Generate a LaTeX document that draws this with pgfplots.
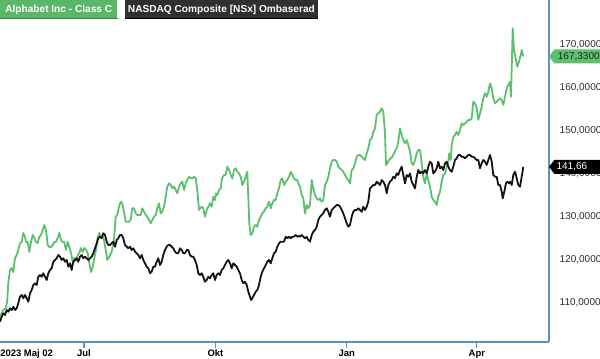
\documentclass[border=0pt]{standalone}
\usepackage{fontspec}
\setmainfont{Liberation Sans}
\usepackage{pgfplots}
\pgfplotsset{compat=1.18}
\definecolor{gline}{RGB}{92,192,110}
\definecolor{gbox}{RGB}{90,182,104}
\definecolor{axblue}{RGB}{95,145,185}
\definecolor{darkbox}{RGB}{48,48,48}
\definecolor{ticktxt}{RGB}{45,45,45}
\begin{document}
\begin{tikzpicture}
\begin{axis}[
  at={(0pt,12.75pt)}, anchor=south west,
  scale only axis, width=411.75pt, height=256.5pt,
  xmin=1.2, xmax=385.5, ymin=100.93, ymax=180.47,
  axis x line*=bottom, axis y line*=right,
  axis line style={draw=axblue, line width=0.9pt, -},
  tick align=outside, major tick length=4.5pt,
  xtick={60,152,244,335}, xticklabels={Jul,Okt,Jan,Apr},
  x tick style={draw=axblue, line width=0.8pt},
  xticklabel style={font=\bfseries\fontsize{7.1}{8}\selectfont, text=black, yshift=2pt},
  extra x ticks={1.2}, extra x tick labels={2023 Maj 02},
  extra x tick style={major tick length=0pt, xticklabel style={anchor=north west, inner xsep=0pt, yshift=-4.5pt}},
  ytick={110,120,130,140,150,160,170},
  yticklabels={{110,0000},{120,0000},{130,0000},{140,0000},{150,0000},{160,0000},{170,0000}},
  y tick style={draw=none},
  yticklabel style={anchor=west, font=\fontsize{7.5}{8}\selectfont, text=ticktxt},
]
\addplot[gline, line width=1.35pt, line join=round] coordinates {
(1.2,106.81)(3.5,108.37)(5.4,108.84)(6.3,110.70)(7.0,114.65)(8.2,117.67)(9.4,118.14)(10.5,117.21)(11.7,120.47)(12.9,121.16)
(14.0,122.33)(15.2,123.95)(16.4,124.19)(17.5,126.28)(18.7,125.35)(19.4,124.19)(20.6,124.19)(21.7,121.86)(22.9,124.19)(24.1,125.81)
(25.2,125.12)(26.4,124.19)(27.6,123.95)(28.7,125.35)(29.9,125.81)(31.1,126.97)(32.2,128.14)(33.4,126.97)(34.6,123.49)(35.7,123.02)
(36.9,123.02)(38.1,123.49)(39.2,124.19)(40.4,124.19)(41.6,125.12)(42.7,126.28)(43.9,124.65)(45.1,124.19)(46.2,124.19)(47.4,122.33)
(48.6,124.19)(49.7,123.02)(50.9,121.63)(52.1,119.53)(53.2,120.47)(54.4,120.00)(55.6,121.16)(56.7,121.63)(57.9,122.79)(59.1,121.86)
(60.2,122.79)(61.4,122.33)(62.6,121.63)(63.7,119.30)(64.9,117.21)(66.1,118.37)(67.2,120.47)(68.4,122.33)(69.6,125.35)(70.7,126.28)
(71.2,125.81)(73.1,125.42)(74.0,124.65)(75.4,121.93)(76.3,120.00)(77.7,120.77)(79.4,121.93)(81.0,124.65)(82.2,130.07)(83.3,130.47)
(84.5,132.40)(85.7,133.56)(86.8,133.18)(88.0,131.23)(89.2,128.91)(90.3,128.91)(91.5,128.91)(92.7,129.30)(93.8,132.02)(95.0,132.02)
(96.2,130.86)(97.3,130.47)(98.5,130.47)(99.7,130.47)(100.8,132.02)(102.0,131.23)(103.2,130.47)(104.3,130.07)(105.5,129.30)(106.7,128.53)
(107.8,129.30)(109.0,130.07)(110.2,130.47)(111.3,132.02)(112.5,133.18)(113.7,130.86)(114.8,131.23)(116.0,132.40)(117.2,134.72)(118.3,137.05)
(119.5,137.84)(120.7,137.44)(121.8,136.67)(123.0,137.05)(124.2,136.28)(125.3,135.51)(126.5,137.05)(127.7,137.84)(128.8,138.21)(130.0,136.28)
(131.2,137.84)(132.3,138.60)(133.5,139.37)(134.7,139.00)(135.8,139.00)(137.0,139.37)(138.2,139.00)(139.3,136.28)(140.5,131.63)(141.2,132.02)
(142.4,132.40)(143.5,132.02)(144.7,130.07)(145.9,131.63)(147.0,132.40)(148.2,133.18)(149.4,132.40)(150.5,134.72)(151.7,133.95)(152.4,135.51)
(153.3,135.12)(154.5,136.28)(155.7,136.67)(156.6,139.00)(158.0,139.77)(159.2,139.77)(160.3,141.70)(161.5,140.93)(162.7,139.77)(163.8,139.00)
(165.0,140.93)(166.2,141.33)(167.3,140.53)(168.5,140.16)(169.7,139.37)(170.8,137.44)(172.0,138.21)(173.2,139.37)(174.3,140.53)(175.0,134.72)
(175.7,128.53)(176.7,125.81)(177.8,126.21)(179.0,127.74)(180.2,128.14)(181.3,127.74)(182.5,129.30)(183.7,130.07)(184.8,130.86)(186.0,131.23)
(187.2,132.02)(188.3,132.40)(189.5,133.56)(190.7,132.02)(191.8,133.18)(193.0,133.95)(194.2,133.95)(195.3,135.51)(196.5,136.67)(197.7,138.60)
(198.8,139.00)(200.0,137.44)(201.2,138.21)(202.3,138.60)(203.5,139.37)(204.7,140.53)(205.8,139.77)(207.0,139.00)(208.2,138.60)(209.3,138.60)
(210.5,137.44)(211.2,137.05)(212.4,135.12)(213.5,134.35)(214.7,130.86)(215.9,132.79)(217.0,132.02)(218.2,132.79)(219.4,138.60)(220.5,136.67)
(221.7,135.12)(222.9,134.35)(224.0,133.95)(225.2,134.35)(226.4,133.56)(227.5,133.95)(228.7,137.44)(229.9,138.21)(231.0,139.37)(232.2,141.33)
(233.4,142.86)(234.5,143.26)(235.7,143.26)(236.9,142.86)(238.0,141.70)(239.2,141.33)(240.4,140.93)(241.5,140.53)(242.7,139.77)(243.9,139.00)
(245.0,138.60)(246.2,137.84)(247.4,140.93)(248.5,141.33)(249.7,142.49)(250.9,144.02)(252.0,144.42)(253.2,144.42)(254.4,144.02)(255.5,143.65)
(256.7,143.26)(257.9,144.81)(259.0,145.97)(260.2,147.91)(261.4,148.30)(262.5,149.84)(263.7,150.63)(264.9,153.72)(266.0,154.12)(267.2,154.49)
(268.4,155.28)(269.5,154.49)(270.7,149.47)(271.4,142.09)(272.3,142.49)(273.5,143.26)(274.7,143.65)(275.8,144.02)(277.0,144.81)(278.2,145.58)
(279.3,146.35)(280.5,148.67)(281.2,150.63)(282.4,149.07)(283.5,147.91)(284.7,147.14)(285.9,147.91)(287.0,146.74)(288.2,145.19)(289.4,142.49)
(290.5,142.09)(291.7,143.26)(292.9,144.81)(294.0,145.58)(295.2,145.58)(296.4,142.49)(297.5,139.37)(298.7,137.84)(299.9,140.16)(301.0,138.60)
(302.2,137.05)(303.4,134.72)(304.5,133.95)(305.7,133.56)(306.9,132.79)(308.0,134.72)(309.2,135.88)(310.4,138.21)(311.5,139.77)(312.7,140.16)
(313.9,141.70)(315.0,142.86)(315.7,144.81)(316.7,143.26)(317.4,146.74)(318.5,148.67)(319.7,149.07)(320.9,149.84)(322.0,149.07)(323.2,150.23)
(324.4,151.79)(325.5,151.40)(326.7,151.79)(327.9,152.16)(329.0,152.56)(330.2,152.56)(331.4,152.95)(332.5,156.81)(333.7,156.44)(334.9,155.28)
(336.0,152.56)(337.2,154.12)(338.4,155.65)(339.5,157.60)(340.7,158.77)(341.9,157.98)(343.0,159.14)(344.2,161.09)(345.4,159.93)(346.5,157.60)
(347.7,156.44)(348.9,156.81)(350.0,157.21)(351.2,157.60)(352.4,157.21)(353.5,156.05)(354.7,157.98)(355.9,159.93)(357.0,160.70)(358.2,161.47)
(358.9,157.98)(360.1,173.88)(361.0,168.84)(362.4,166.51)(363.3,164.95)(364.5,166.12)(365.7,167.67)(366.4,168.84)(367.5,167.33)
};
\addplot[black!92, line width=1.35pt, line join=round] coordinates {
(1.2,105.65)(2.4,106.81)(3.5,107.60)(4.7,107.21)(5.9,108.37)(7.0,107.98)(8.2,108.77)(9.4,108.37)(10.5,109.14)(11.7,108.37)
(12.9,108.77)(14.0,109.93)(15.2,111.47)(16.4,111.86)(17.5,111.09)(18.7,111.86)(19.9,111.09)(21.0,110.30)(22.2,112.25)(23.4,113.02)
(24.5,114.19)(25.7,114.58)(26.9,114.19)(28.0,116.12)(29.2,116.51)(30.4,116.12)(31.5,116.91)(32.7,116.12)(33.9,115.35)(35.0,116.91)
(36.2,117.67)(37.4,118.07)(38.5,119.60)(39.7,120.00)(40.9,120.40)(42.0,121.16)(43.2,120.77)(44.4,120.00)(45.5,120.40)(46.7,119.60)
(47.9,120.00)(49.0,118.44)(50.2,119.23)(51.4,117.67)(52.5,119.60)(53.7,120.00)(54.9,120.40)(56.0,119.60)(57.2,120.77)(58.4,121.16)
(59.5,120.40)(60.7,120.77)(61.9,120.40)(63.0,120.00)(64.2,120.40)(65.4,120.77)(66.5,121.56)(67.7,122.72)(68.9,123.88)(70.0,125.05)
(71.2,125.42)(72.4,125.05)(73.5,126.21)(74.7,125.81)(75.9,124.26)(77.0,123.49)(78.2,123.49)(79.4,123.88)(80.5,124.26)(81.7,123.09)
(82.9,124.65)(84.0,125.05)(85.2,125.81)(86.4,125.81)(87.5,125.05)(88.7,123.49)(89.9,123.09)(91.0,122.72)(92.2,123.09)(93.4,122.33)
(94.5,122.72)(95.7,121.93)(96.9,121.56)(98.0,121.16)(99.2,120.40)(100.4,121.16)(101.5,120.00)(102.7,119.23)(103.9,118.44)(105.0,118.07)
(106.2,116.91)(107.4,117.28)(108.5,118.44)(109.7,118.44)(110.9,119.60)(112.0,120.40)(113.2,118.84)(114.4,119.60)(115.5,121.16)(116.7,122.33)
(117.9,123.09)(119.0,123.49)(120.2,123.49)(121.4,123.09)(122.5,122.72)(123.7,121.93)(124.9,121.56)(126.0,121.56)(127.2,122.72)(128.4,122.33)
(129.5,121.56)(130.7,121.56)(131.9,122.33)(133.0,122.33)(134.2,121.16)(135.4,120.77)(136.5,120.77)(137.7,120.00)(138.9,118.84)(140.0,116.91)
(141.2,116.51)(142.4,116.91)(143.5,116.12)(144.7,114.95)(145.9,115.35)(147.0,116.12)(148.2,115.74)(149.4,116.51)(150.5,116.91)(151.7,115.35)
(152.9,116.51)(154.0,116.91)(155.2,116.51)(156.4,117.67)(157.5,118.07)(158.7,118.84)(159.9,119.60)(161.0,120.00)(162.2,119.23)(163.4,118.07)
(164.5,119.23)(165.7,118.84)(166.9,118.44)(168.0,117.67)(169.2,116.91)(170.4,115.35)(171.5,114.58)(172.7,114.95)(173.9,114.19)(175.0,112.63)
(176.2,111.47)(176.9,110.70)(177.8,111.09)(179.0,111.86)(180.2,112.63)(181.3,113.02)(182.5,114.19)(183.7,116.12)(184.8,117.28)(186.0,118.07)
(187.2,118.84)(188.3,119.60)(189.5,120.00)(190.7,119.23)(191.8,120.40)(193.0,121.56)(194.2,121.93)(195.3,123.09)(196.5,123.88)(197.7,124.26)
(198.8,124.26)(200.0,124.26)(201.2,125.42)(202.3,125.05)(203.5,125.42)(204.7,125.05)(205.8,125.42)(207.0,125.42)(208.2,125.81)(209.3,125.42)
(210.5,125.58)(211.2,125.42)(212.4,125.81)(213.5,125.42)(214.7,125.05)(215.9,125.42)(217.0,124.65)(218.2,124.26)(219.4,125.81)(220.5,126.58)
(221.7,126.98)(222.9,127.74)(224.0,129.30)(225.2,130.07)(226.4,130.47)(227.5,130.86)(228.7,131.63)(229.9,132.02)(231.0,131.23)(232.2,130.07)
(233.4,131.63)(234.5,132.02)(235.7,132.40)(236.9,132.79)(238.0,132.79)(239.2,132.40)(240.4,131.63)(241.5,130.86)(242.7,129.70)(243.9,128.53)
(245.0,127.74)(246.2,128.14)(247.4,130.07)(248.5,131.23)(249.7,131.63)(250.9,131.63)(252.0,132.02)(253.2,131.63)(254.4,131.23)(255.5,132.40)
(256.7,131.63)(257.9,132.40)(259.0,133.56)(260.2,136.67)(261.4,137.05)(262.5,137.44)(263.7,137.44)(264.9,138.21)(266.0,137.84)(267.2,137.44)
(268.4,138.60)(269.5,138.21)(270.7,137.44)(271.9,135.51)(273.0,137.44)(274.2,138.21)(275.4,138.60)(276.5,139.37)(277.7,139.00)(278.9,140.16)
(280.0,139.77)(281.2,140.93)(282.4,141.70)(283.5,139.77)(284.7,137.84)(285.9,139.77)(287.0,139.37)(288.2,140.16)(289.4,138.21)(290.5,137.44)
(291.7,136.67)(292.9,139.37)(294.0,140.93)(295.2,140.16)(296.4,140.53)(297.5,140.16)(298.7,140.93)(299.9,140.16)(301.0,141.70)(302.2,142.86)
(303.4,142.49)(304.5,140.16)(305.7,140.53)(306.9,141.33)(308.0,142.86)(309.2,141.33)(310.4,141.70)(311.5,140.93)(312.7,142.49)(313.9,142.86)
(315.0,141.70)(316.2,140.93)(317.4,140.53)(318.5,141.70)(319.7,143.26)(320.9,143.65)(322.0,144.42)(323.2,144.42)(324.4,144.02)(325.5,144.02)
(326.7,143.65)(327.9,144.02)(329.0,144.42)(330.2,144.42)(331.4,144.02)(332.5,144.02)(333.7,143.65)(334.9,143.26)(336.0,143.26)(337.2,141.33)
(338.4,142.49)(339.5,143.26)(340.7,142.86)(341.9,142.09)(343.0,143.26)(344.2,144.42)(345.4,142.86)(346.5,139.77)(347.7,139.37)(348.9,139.37)
(350.0,137.44)(351.2,137.44)(352.4,135.88)(353.1,134.35)(354.2,135.88)(355.4,137.84)(356.3,138.21)(357.5,137.84)(358.2,138.21)(359.4,137.44)
(360.5,139.77)(361.7,140.53)(362.9,139.00)(364.0,137.44)(365.2,137.05)(366.4,139.37)(367.5,141.66)
};
\coordinate (gt) at (axis cs:385.5,167.33);
\coordinate (bt) at (axis cs:385.5,141.66);
\end{axis}
\fill[gline] (gt) -- ++(4pt,5.25pt) -- ++(36pt,0) -- ++(0,-10.5pt) -- ++(-36pt,0) -- cycle;
\node[anchor=west, inner sep=0pt, font=\fontsize{7.5}{8}\selectfont, text=black!85] at ([xshift=6.5pt]gt) {167,3300};
\fill[black] (bt) -- ++(4pt,5.25pt) -- ++(36pt,0) -- ++(0,-10.5pt) -- ++(-36pt,0) -- cycle;
\node[anchor=west, inner sep=0pt, font=\fontsize{7.5}{8}\selectfont, text=white] at ([xshift=5.5pt]bt) {141,66};
\node[anchor=north west, fill=gbox, text=white, font=\bfseries\fontsize{7.6}{9}\selectfont, minimum height=13.5pt, minimum width=87.75pt, inner xsep=2pt] (lg) at (0,269.25pt) {Alphabet Inc - Class C};
\draw[gbox!70!black, line width=0.6pt] (lg.south west) -- (lg.south east);
\node[anchor=north west, fill=darkbox, text=white, font=\bfseries\fontsize{7.6}{9}\selectfont, minimum height=13.5pt, minimum width=131.25pt, inner xsep=2pt] (lb) at (93.75pt,269.25pt) {NASDAQ Composite [NSx] Ombaserad};
\draw[black, line width=0.8pt] (lb.south west) -- (lb.south east);
\pgfresetboundingbox
\path (0,0) rectangle (450pt,269.25pt);
\end{tikzpicture}
\end{document}
